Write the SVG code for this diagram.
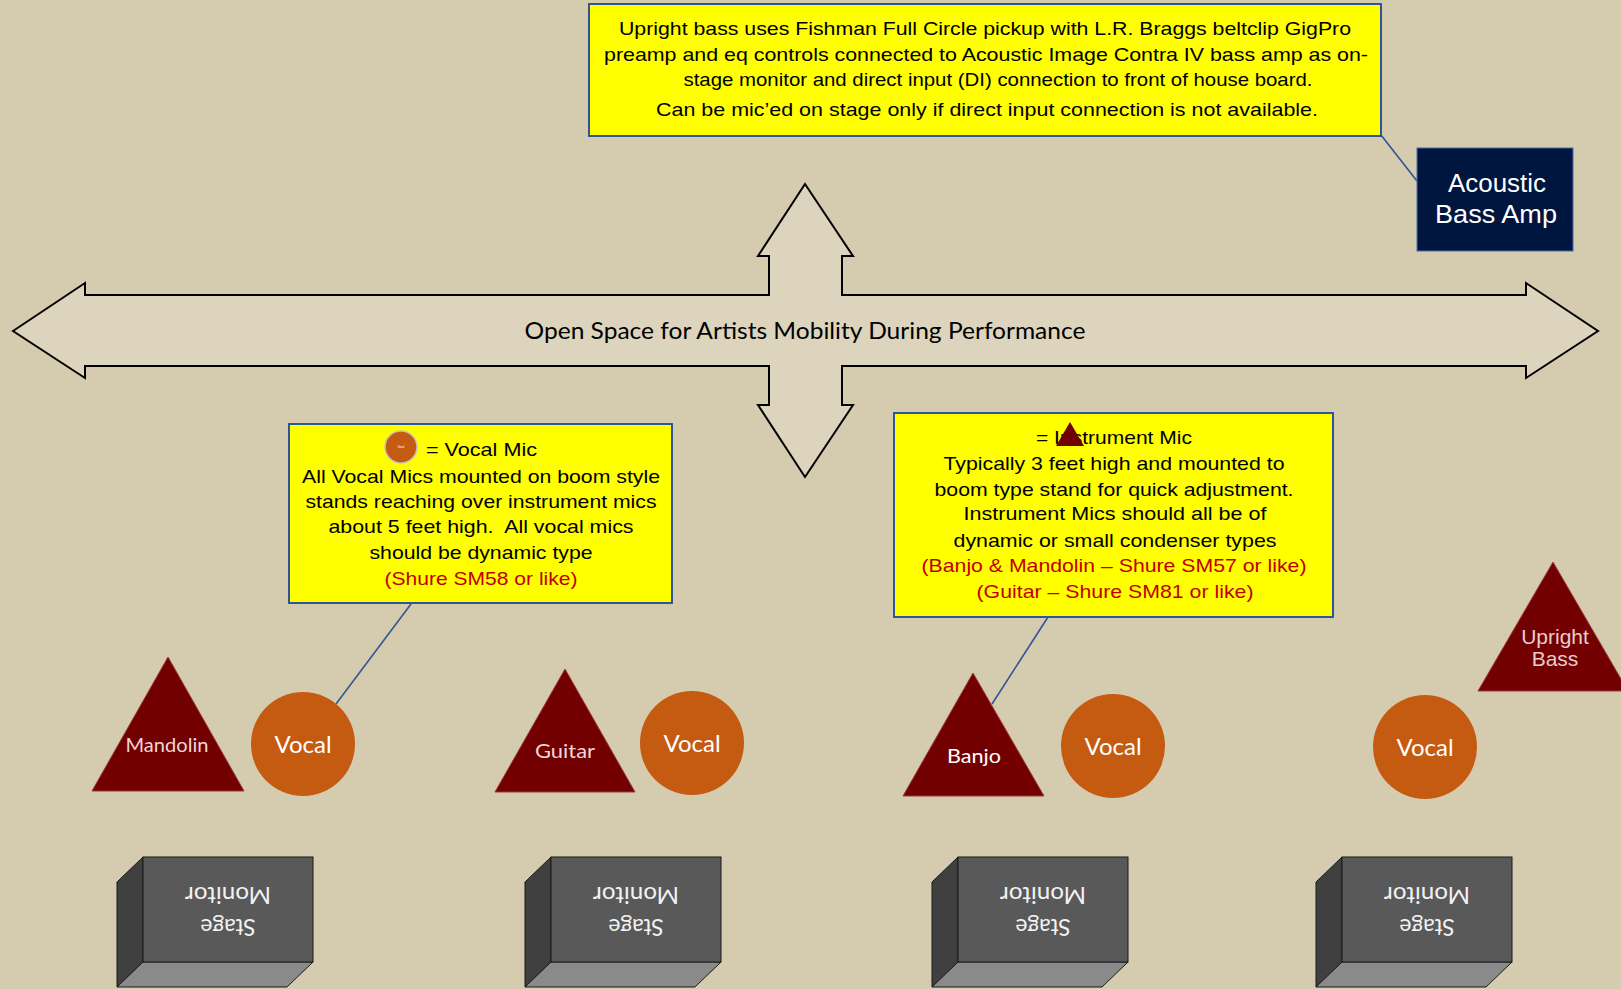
<svg xmlns="http://www.w3.org/2000/svg" width="1621" height="989" viewBox="0 0 1621 989">
<style>
.note{fill:#FFFF00;stroke:#2F5597;stroke-width:2}
.nt{font-family:"Liberation Sans",Arial,sans-serif;font-size:19px;fill:#000;text-anchor:middle}
.red{fill:#C00000}
.conn{stroke:#2F5597;stroke-width:1.6;fill:none}
.tri{fill:#720000;stroke:#9A3A3A;stroke-width:1}
.voc{fill:#C55A11}
.vt{font-family:Lato,"Noto Sans",sans-serif;font-size:24px;fill:#fff;text-anchor:middle}
.tl{font-family:Lato,"Noto Sans",sans-serif;font-size:19px;fill:#EFD6D6;text-anchor:middle}
.mf{fill:#595959;stroke:#1a1a1a;stroke-width:1}
.ms{fill:#404040;stroke:#1a1a1a;stroke-width:1}
.mb{fill:#8A8A8A;stroke:#1a1a1a;stroke-width:1}
.mt{font-family:Lato,"Noto Sans",sans-serif;font-size:23px;fill:#F2F2F2;text-anchor:middle}
</style>
<rect width="1621" height="989" fill="#D5CBAF"/>

<g id="open-space-arrow">
<path d="M13,331 L85,283 L85,295 L769,295 L769,256 L758,256 L805,184 L853,256 L842,256 L842,295 L1526,295 L1526,283 L1598,331 L1526,378 L1526,366 L842,366 L842,405 L853,405 L805,477 L758,405 L769,405 L769,366 L85,366 L85,378 Z" fill="#DCD4BD" stroke="#000" stroke-width="2"/>
<text x="805" y="339" font-family="Lato,'Noto Sans',sans-serif" font-size="23" fill="#000" text-anchor="middle" textLength="561" lengthAdjust="spacingAndGlyphs">Open Space for Artists Mobility During Performance</text>
</g>

<g id="connectors">
<line class="conn" x1="1381" y1="135" x2="1417" y2="181"/>
<line class="conn" x1="411" y1="604" x2="336" y2="704"/>
<line class="conn" x1="1048" y1="617" x2="992" y2="704"/>
</g>

<g id="bass-note">
<rect class="note" x="589" y="4" width="792" height="132"/>
<text class="nt" x="985" y="35" textLength="732" lengthAdjust="spacingAndGlyphs">Upright bass uses Fishman Full Circle pickup with L.R. Braggs beltclip GigPro</text>
<text class="nt" x="986" y="61" textLength="764" lengthAdjust="spacingAndGlyphs">preamp and eq controls connected to Acoustic Image Contra IV bass amp as on-</text>
<text class="nt" x="998" y="86" textLength="629" lengthAdjust="spacingAndGlyphs">stage monitor and direct input (DI) connection to front of house board.</text>
<text class="nt" x="987" y="116" textLength="662" lengthAdjust="spacingAndGlyphs">Can be mic’ed on stage only if direct input connection is not available.</text>
</g>

<g id="bass-amp">
<rect x="1417" y="148" width="156" height="103" fill="#00163E" stroke="#4A6BA8" stroke-width="1"/>
<text x="1497" y="192" font-family="'Liberation Sans',Arial,sans-serif" font-size="25" fill="#fff" text-anchor="middle" textLength="98" lengthAdjust="spacingAndGlyphs">Acoustic</text>
<text x="1496" y="223" font-family="'Liberation Sans',Arial,sans-serif" font-size="25" fill="#fff" text-anchor="middle" textLength="122" lengthAdjust="spacingAndGlyphs">Bass Amp</text>
</g>

<g id="vocal-legend">
<rect class="note" x="289" y="424" width="383" height="179"/>
<circle cx="401" cy="447" r="16" fill="#C55A11" stroke="#C9C0B8" stroke-width="1.5"/>
<text x="401" y="448" font-family="Lato,sans-serif" font-size="3" fill="#fff" text-anchor="middle">Vocal</text>
<text class="nt" x="426" y="456" style="text-anchor:start" textLength="111" lengthAdjust="spacingAndGlyphs">= Vocal Mic</text>
<text class="nt" x="481" y="483" textLength="358" lengthAdjust="spacingAndGlyphs">All Vocal Mics mounted on boom style</text>
<text class="nt" x="481" y="508" textLength="351" lengthAdjust="spacingAndGlyphs">stands reaching over instrument mics</text>
<text class="nt" x="481" y="533" textLength="305" lengthAdjust="spacingAndGlyphs" style="white-space:pre">about 5 feet high.  All vocal mics</text>
<text class="nt" x="481" y="559" textLength="223" lengthAdjust="spacingAndGlyphs">should be dynamic type</text>
<text class="nt red" x="481" y="585" textLength="193" lengthAdjust="spacingAndGlyphs">(Shure SM58 or like)</text>
</g>

<g id="instrument-legend">
<rect class="note" x="894" y="413" width="439" height="204"/>
<text class="nt" x="1114" y="444" textLength="156" lengthAdjust="spacingAndGlyphs">= Instrument Mic</text>
<polygon points="1070,422 1084,446 1056,446" fill="#720000"/>
<text class="nt" x="1114" y="470" textLength="341" lengthAdjust="spacingAndGlyphs">Typically 3 feet high and mounted to</text>
<text class="nt" x="1114" y="496" textLength="359" lengthAdjust="spacingAndGlyphs">boom type stand for quick adjustment.</text>
<text class="nt" x="1115" y="520" textLength="303" lengthAdjust="spacingAndGlyphs">Instrument Mics should all be of</text>
<text class="nt" x="1115" y="547" textLength="323" lengthAdjust="spacingAndGlyphs">dynamic or small condenser types</text>
<text class="nt red" x="1114" y="572" textLength="385" lengthAdjust="spacingAndGlyphs">(Banjo &amp; Mandolin – Shure SM57 or like)</text>
<text class="nt red" x="1115" y="598" textLength="277" lengthAdjust="spacingAndGlyphs">(Guitar – Shure SM81 or like)</text>
</g>

<g id="mandolin">
<polygon class="tri" points="168,657 244,791 92,791"/>
<text class="tl" x="167" y="752" textLength="83" lengthAdjust="spacingAndGlyphs">Mandolin</text>
</g>
<g id="vocal-1">
<circle class="voc" cx="303" cy="744" r="52"/>
<text class="vt" x="303" y="753">Vocal</text>
</g>

<g id="guitar">
<polygon class="tri" points="565,669 635,792 495,792"/>
<text class="tl" x="565" y="758" font-size="20" textLength="60" lengthAdjust="spacingAndGlyphs">Guitar</text>
</g>
<g id="vocal-2">
<circle class="voc" cx="692" cy="743" r="52"/>
<text class="vt" x="692" y="752">Vocal</text>
</g>

<g id="banjo">
<polygon class="tri" points="973,673 1044,796 903,796"/>
<text class="vt" x="974" y="763" style="font-size:20px" textLength="54" lengthAdjust="spacingAndGlyphs">Banjo</text>
</g>
<g id="vocal-3">
<circle class="voc" cx="1113" cy="746" r="52"/>
<text class="vt" x="1113" y="755">Vocal</text>
</g>

<g id="vocal-4">
<circle class="voc" cx="1425" cy="747" r="52"/>
<text class="vt" x="1425" y="756">Vocal</text>
</g>
<g id="upright-bass">
<polygon class="tri" points="1553,562 1628,691 1478,691"/>
<text x="1555" y="644" font-family="'Liberation Sans',Arial,sans-serif" font-size="21" fill="#E8CCCC" text-anchor="middle">Upright</text>
<text x="1555" y="666" font-family="'Liberation Sans',Arial,sans-serif" font-size="21" fill="#E8CCCC" text-anchor="middle">Bass</text>
</g>

<g id="monitor-1">
<polygon class="ms" points="117,882 143,857 143,962 117,987"/>
<polygon class="mb" points="143,962 313,962 287,987 117,987"/>
<rect class="mf" x="143" y="857" width="170" height="105"/>
<g transform="rotate(180 228 911)">
<text class="mt" x="228" y="903" textLength="55" lengthAdjust="spacingAndGlyphs">Stage</text>
<text class="mt" x="228" y="935" textLength="86" lengthAdjust="spacingAndGlyphs">Monitor</text>
</g>
</g>
<g id="monitor-2">
<polygon class="ms" points="525,882 551,857 551,962 525,987"/>
<polygon class="mb" points="551,962 721,962 695,987 525,987"/>
<rect class="mf" x="551" y="857" width="170" height="105"/>
<g transform="rotate(180 636 911)">
<text class="mt" x="636" y="903" textLength="55" lengthAdjust="spacingAndGlyphs">Stage</text>
<text class="mt" x="636" y="935" textLength="86" lengthAdjust="spacingAndGlyphs">Monitor</text>
</g>
</g>
<g id="monitor-3">
<polygon class="ms" points="932,882 958,857 958,962 932,987"/>
<polygon class="mb" points="958,962 1128,962 1102,987 932,987"/>
<rect class="mf" x="958" y="857" width="170" height="105"/>
<g transform="rotate(180 1043 911)">
<text class="mt" x="1043" y="903" textLength="55" lengthAdjust="spacingAndGlyphs">Stage</text>
<text class="mt" x="1043" y="935" textLength="86" lengthAdjust="spacingAndGlyphs">Monitor</text>
</g>
</g>
<g id="monitor-4">
<polygon class="ms" points="1316,882 1342,857 1342,962 1316,987"/>
<polygon class="mb" points="1342,962 1512,962 1486,987 1316,987"/>
<rect class="mf" x="1342" y="857" width="170" height="105"/>
<g transform="rotate(180 1427 911)">
<text class="mt" x="1427" y="903" textLength="55" lengthAdjust="spacingAndGlyphs">Stage</text>
<text class="mt" x="1427" y="935" textLength="86" lengthAdjust="spacingAndGlyphs">Monitor</text>
</g>
</g>
</svg>
